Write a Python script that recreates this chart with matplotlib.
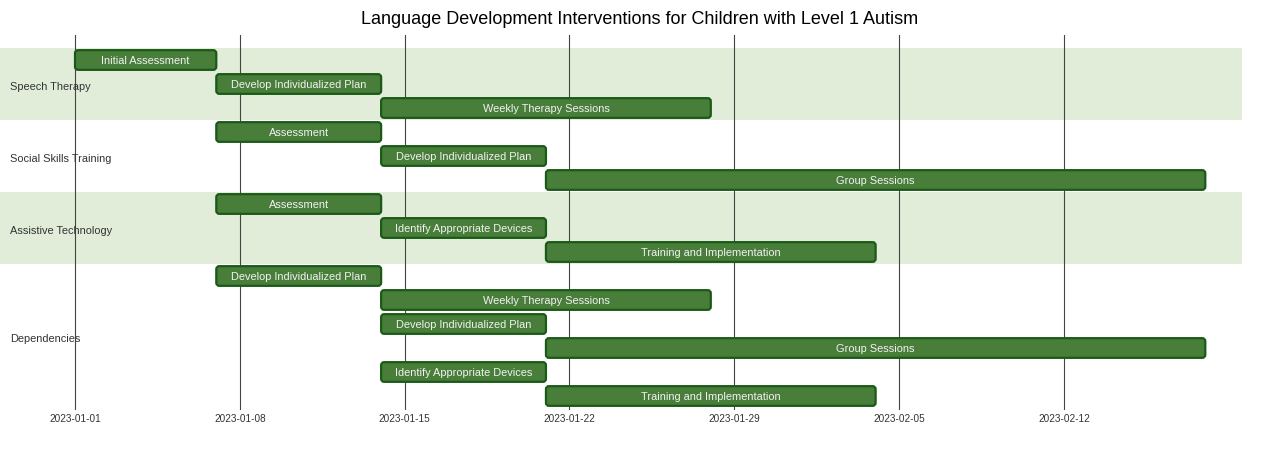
import matplotlib
matplotlib.use("Agg")
import matplotlib.pyplot as plt
import matplotlib.dates as mdates
from matplotlib.patches import FancyBboxPatch
from datetime import date

plt.rcParams['font.family'] = ['Liberation Sans', 'DejaVu Sans']

title = "Language Development Interventions for Children with Level 1 Autism"

sections = ["Speech Therapy", "Social Skills Training", "Assistive Technology", "Dependencies"]
section_rows = [3, 3, 3, 6]

task_names = [
    "Initial Assessment", "Develop Individualized Plan", "Weekly Therapy Sessions",
    "Assessment", "Develop Individualized Plan", "Group Sessions",
    "Assessment", "Identify Appropriate Devices", "Training and Implementation",
    "Develop Individualized Plan", "Weekly Therapy Sessions", "Develop Individualized Plan",
    "Group Sessions", "Identify Appropriate Devices", "Training and Implementation",
]
task_start = [
    "2023-01-01", "2023-01-07", "2023-01-14",
    "2023-01-07", "2023-01-14", "2023-01-21",
    "2023-01-07", "2023-01-14", "2023-01-21",
    "2023-01-07", "2023-01-14", "2023-01-14",
    "2023-01-21", "2023-01-14", "2023-01-21",
]
task_days = [6, 7, 14, 7, 7, 28, 7, 7, 14, 7, 14, 7, 28, 7, 14]

tick_dates = ["2023-01-01", "2023-01-08", "2023-01-15", "2023-01-22",
              "2023-01-29", "2023-02-05", "2023-02-12"]

W, H = 1280, 460
fig = plt.figure(figsize=(W / 100, H / 100), dpi=100)
ax = fig.add_axes([0, (H - 411) / H, 1, (411 - 36) / H])

d0 = mdates.date2num(date(2023, 1, 1))
px_per_day = 989 / 42
ax.set_xlim(d0 - 75 / px_per_day, d0 + (W - 75) / px_per_day)
ax.set_ylim(14.5 + 2 / 24, -0.5 - 13 / 24)

# section bands
row = 0
for i, n in enumerate(section_rows):
    if i % 2 == 0:
        ax.axhspan(row - 0.5, row + n - 0.5, xmin=0, xmax=1242 / W,
                   color="#e1edd9", lw=0, zorder=0)
    ax.text(10 / px_per_day + ax.get_xlim()[0], row + (n - 1) / 2 + 0.08, sections[i],
            fontsize=7.9, color="#333333", va="center", ha="left", zorder=3)
    row += n

# grid
ticks = [mdates.datestr2num(t) for t in tick_dates]
for t in ticks:
    ax.axvline(t, color="#444444", lw=0.8, zorder=1)

# bars
bh = 0.82
for i, name in enumerate(task_names):
    s = mdates.datestr2num(task_start[i])
    box = FancyBboxPatch((s, i - bh / 2), task_days[i], bh,
                         boxstyle="round,pad=0,rounding_size=0.13",
                         mutation_aspect=0.98,
                         facecolor="#487e3a", edgecolor="#1a5a17", lw=1.6, zorder=2)
    ax.add_patch(box)
    ax.text(s + task_days[i] / 2, i, name, color="#f2f2f2", fontsize=7.9,
            ha="center", va="center", zorder=3)

ax.set_xticks(ticks)
ax.set_xticklabels(tick_dates)
ax.tick_params(axis="x", length=0, pad=2.5, labelsize=7.2, labelcolor="#333333")
ax.set_yticks([])
for sp in ax.spines.values():
    sp.set_visible(False)

fig.text(0.5, 1 - 19 / H, title, ha="center", va="center", fontsize=13.0, color="#000000")

fig.savefig("out.png", dpi=100)
